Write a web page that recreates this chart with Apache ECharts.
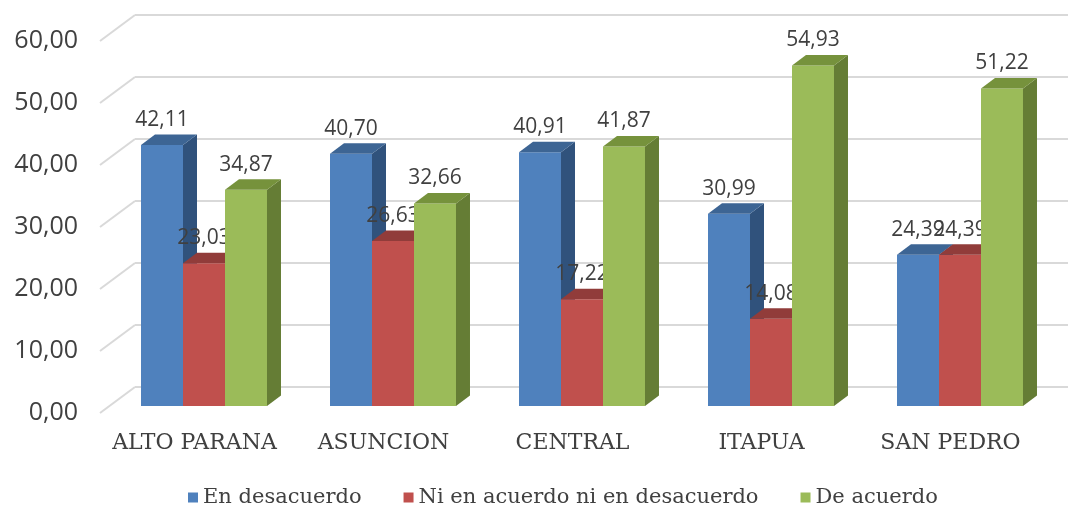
<!DOCTYPE html>
<html>
<head>
<meta charset="UTF-8" />
<title>Chart</title>
<style>
* { margin: 0; padding: 0; }
html, body { background: #fff; }
#chart { width: 1068px; height: 506px; }
</style>
</head>
<body>
<div id="chart"></div>
<script src="https://cdn.jsdelivr.net/npm/echarts@6.0.0/dist/echarts.min.js"></script>
<script>
let categories = ['ALTO PARANA', 'ASUNCION', 'CENTRAL', 'ITAPUA', 'SAN PEDRO']
let seriesNames = ['En desacuerdo', 'Ni en acuerdo ni en desacuerdo', 'De acuerdo']
let desacuerdo = [42.11, 40.70, 40.91, 30.99, 24.39]
let neutral = [23.03, 26.63, 17.22, 14.08, 24.39]
let deAcuerdo = [34.87, 32.66, 41.87, 54.93, 51.22]
let yTicks = [0, 10, 20, 30, 40, 50, 60]

let colors = ['#4F81BD', '#C0504D', '#9BBB59']
let topColors = ['#3D6594', '#913C3A', '#76923C']
let sideColors = ['#30527C', '#8A3533', '#657D35']

// bar depth and wall offsets (px)
const DX = 14, DY = -10.5
const gridColor = '#D9D9D9'
const textColor = '#404040'

let chart = echarts.init(document.getElementById('chart'))

function fmt(v) {
  return v.toFixed(2).replace('.', ',')
}

function barRenderer(s) {
  return function (params, api) {
    let ci = api.value(0)
    let v = api.value(1)
    let base = api.coord([ci, 0])
    let top = api.coord([ci, v])
    let band = api.size([1, 0])[0]
    let w = band * 0.2222
    let x0 = base[0] - w * 1.5 + s * w
    let x1 = x0 + w
    let yb = base[1], yt = top[1]
    return {
      type: 'group',
      children: [
        { type: 'rect', shape: { x: x0, y: yt, width: w, height: yb - yt }, style: { fill: colors[s] } },
        { type: 'polygon', shape: { points: [[x1, yb], [x1 + DX, yb + DY], [x1 + DX, yt + DY], [x1, yt]] }, style: { fill: sideColors[s] } },
        { type: 'polygon', shape: { points: [[x0, yt], [x0 + DX, yt + DY], [x1 + DX, yt + DY], [x1, yt]] }, style: { fill: topColors[s] } },
        { type: 'text', z2: 100, style: { x: x0 + w / 2, y: yt - 25, text: fmt(v), align: 'center', verticalAlign: 'middle',
            fill: textColor, font: '21px "Open Sans"' } }
      ]
    }
  }
}

function diagRenderer(params, api) {
  let y = api.coord([0, api.value(1)])[1]
  let gl = params.coordSys.x
  return {
    type: 'line',
    shape: { x1: gl - 9.5, y1: y + 7, x2: gl + 25.5, y2: y - 19 },
    style: { stroke: gridColor, lineWidth: 2 }
  }
}

let valueSets = [desacuerdo, neutral, deAcuerdo]

let series = valueSets.map((vals, s) => ({
  name: seriesNames[s],
  type: 'custom',
  xAxisIndex: 1,
  yAxisIndex: 1,
  z: 3 + s,
  itemStyle: { color: colors[s] },
  renderItem: barRenderer(s),
  data: vals.map((v, i) => [i, v])
}))

series.unshift({
  name: 'diag',
  type: 'custom',
  xAxisIndex: 1,
  yAxisIndex: 1,
  z: 1,
  silent: true,
  renderItem: diagRenderer,
  data: yTicks.map(t => [0, t])
})

let option = {
  backgroundColor: '#ffffff',
  animation: false,
  color: colors,
  legend: {
    data: seriesNames,
    left: 183,
    top: 482,
    icon: 'rect',
    itemWidth: 10,
    itemHeight: 10,
    itemGap: 42,
    textStyle: { color: textColor, fontFamily: 'DejaVu Serif', fontSize: 21 }
  },
  grid: [
    // front plane: labels
    { left: 100, right: 23, top: 41, bottom: 93 },
    // bar plane
    { left: 109.5, right: 13.5, top: 34, bottom: 100 },
    // back wall
    { left: 135, right: 0, top: 15, bottom: 119 }
  ],
  xAxis: [
    { gridIndex: 0, type: 'category', data: categories,
      axisLine: { show: false }, axisTick: { show: false },
      axisLabel: { interval: 0, margin: 19, color: textColor, fontFamily: 'DejaVu Serif', fontSize: 22 } },
    { gridIndex: 1, type: 'category', data: categories, show: false },
    { gridIndex: 2, type: 'category', data: categories, show: false }
  ],
  yAxis: [
    { gridIndex: 0, type: 'value', min: 0, max: 60, interval: 10,
      splitLine: { show: false }, axisLine: { show: false }, axisTick: { show: false },
      axisLabel: { margin: 22, color: textColor, fontFamily: 'Open Sans', fontSize: 25, formatter: v => fmt(v) } },
    { gridIndex: 1, type: 'value', min: 0, max: 60, interval: 10, show: false },
    { gridIndex: 2, type: 'value', min: 0, max: 60, interval: 10,
      axisLine: { show: false }, axisTick: { show: false }, axisLabel: { show: false },
      splitLine: { show: true, lineStyle: { color: gridColor, width: 2 } } }
  ],
  series: series
}

chart.setOption(option)
</script>
</body>
</html>
